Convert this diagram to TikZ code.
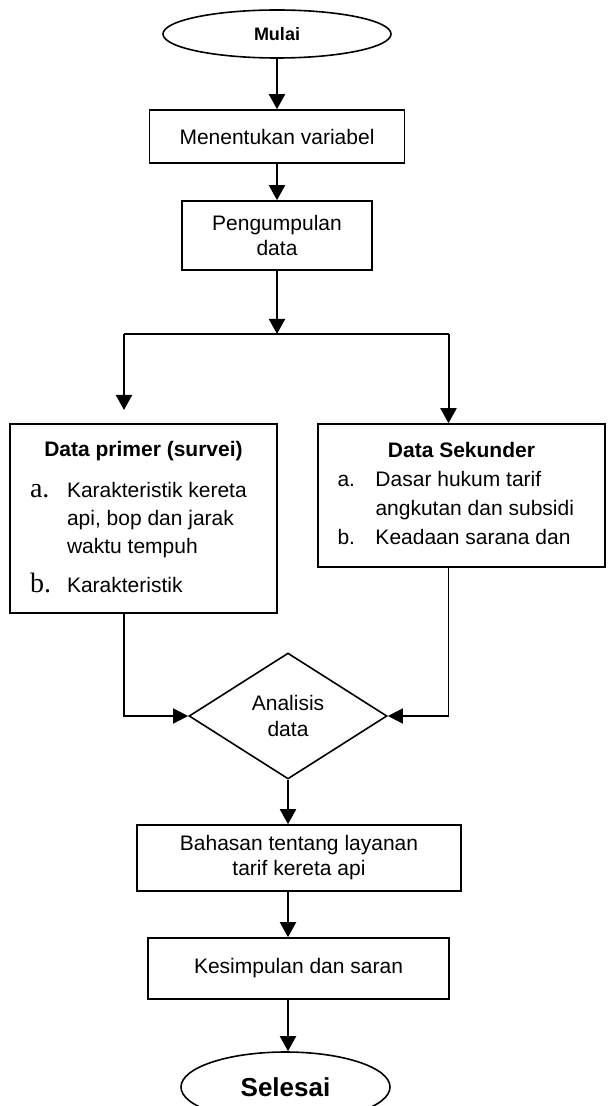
\documentclass[tikz,border=0pt]{standalone}
\usepackage{fontspec}
\setmainfont{Liberation Sans}
\newfontfamily\timesfont{Liberation Serif}
\usetikzlibrary{shapes.geometric,arrows.meta}
\tikzset{
  kotak/.style={draw, line width=0.8pt, inner sep=0pt, align=center, font=\fontsize{10.5}{12.5}\selectfont},
  kotakdaftar/.style={draw, line width=0.8pt, inner sep=0pt},
  ujung/.style={draw, ellipse, line width=0.8pt, inner sep=0pt},
  panah/.style={line width=1pt, -{Triangle[length=7.5pt,width=8pt]}},
  garis/.style={line width=0.7pt, -{Triangle[length=7.5pt,width=7.5pt]}}
}
\newcommand{\hurufbesar}[1]{{\timesfont\fontsize{14}{14}\selectfont #1}}

\begin{document}
\begin{tikzpicture}[x=0.5pt,y=-0.5pt]
				%%%%% START %%%%%
				\def\xa{277}
				\def\xb{288}
				\clip (0,0) rectangle (609,1106);

				\node[ujung, minimum width=114pt, minimum height=24pt, font=\bfseries\fontsize{9}{9}\selectfont] (mulai) at (\xa,34) {Mulai};
				\node[kotak, minimum width=127.5pt, minimum height=26.5pt] (variabel) at (\xa,136.5) {Menentukan variabel};
				\node[kotak, minimum width=95pt, minimum height=34.5pt] (kumpul) at (\xa,235.5) {Pengumpulan\\data};

				\coordinate (cabang) at (\xa,334);
				\coordinate (kiri) at (124,334);
				\coordinate (kanan) at (448.5,334);
				\coordinate (kiribawah) at (124,410);

				\node[kotakdaftar, minimum width=133.5pt, minimum height=94.5pt, font=\fontsize{10.5}{14}\selectfont] (primer) at (143.5,518.5) {%
					\begin{tabular}{@{}p{18.5pt}@{}p{95pt}@{}}
					\multicolumn{2}{@{}c@{}}{\textbf{Data primer (survei)}}\\[6.5pt]
					\hurufbesar{a.} & Karakteristik kereta\\
					 & api, bop dan jarak\\
					 & waktu tempuh\\[5.5pt]
					\hurufbesar{b.} & Karakteristik
					\end{tabular}};
				\node[kotakdaftar, minimum width=143.5pt, minimum height=71.5pt, font=\fontsize{10.5}{14.5}\selectfont] (sekunder) at (461.5,495.5) {%
					\begin{tabular}{@{}p{19pt}@{}p{105pt}@{}}
					\multicolumn{2}{@{}c@{}}{\textbf{Data Sekunder}}\\
					a. & Dasar hukum tarif\\
					 & angkutan dan subsidi\\
					b. & Keadaan sarana dan
					\end{tabular}};

				\node[draw, diamond, line width=0.8pt, minimum width=99pt, minimum height=63pt, inner sep=0pt, align=center, font=\fontsize{10.5}{13}\selectfont] (analisis) at (\xb,716) {Analisis\\data};
				\node[kotak, minimum width=162pt, minimum height=33pt] (bahasan) at (299,858) {Bahasan tentang layanan\\tarif kereta api};
				\node[kotak, minimum width=150.5pt, minimum height=30.5pt] (kesimpulan) at (298.5,968.5) {Kesimpulan dan saran};
				\node[ujung, minimum width=104.5pt, minimum height=35pt, font=\bfseries\fontsize{13}{13}\selectfont] (selesai) at (285.5,1087) {Selesai};

				\draw[panah] (mulai) -- (variabel);
				\draw[panah] (variabel) -- (kumpul);
				\draw[panah] (kumpul) -- (cabang);
				\draw[line width=1pt] (kiri) -- (kanan);
				\draw[panah] (kiri) -- (kiribawah);
				\draw[panah] (kanan) -- (kanan |- sekunder.north);

				\draw[garis] (kiri |- primer.south) |- (analisis.west);
				\draw[garis] (kanan |- sekunder.south) |- (analisis.east);

				\draw[panah] (analisis.south) -- (analisis.south |- bahasan.north);
				\draw[panah] (analisis.south |- bahasan.south) -- (analisis.south |- kesimpulan.north);
				\draw[panah] (analisis.south |- kesimpulan.south) -- (analisis.south |- selesai.north);
				%%%%% START %%%%%
			\end{tikzpicture}
\end{document}
